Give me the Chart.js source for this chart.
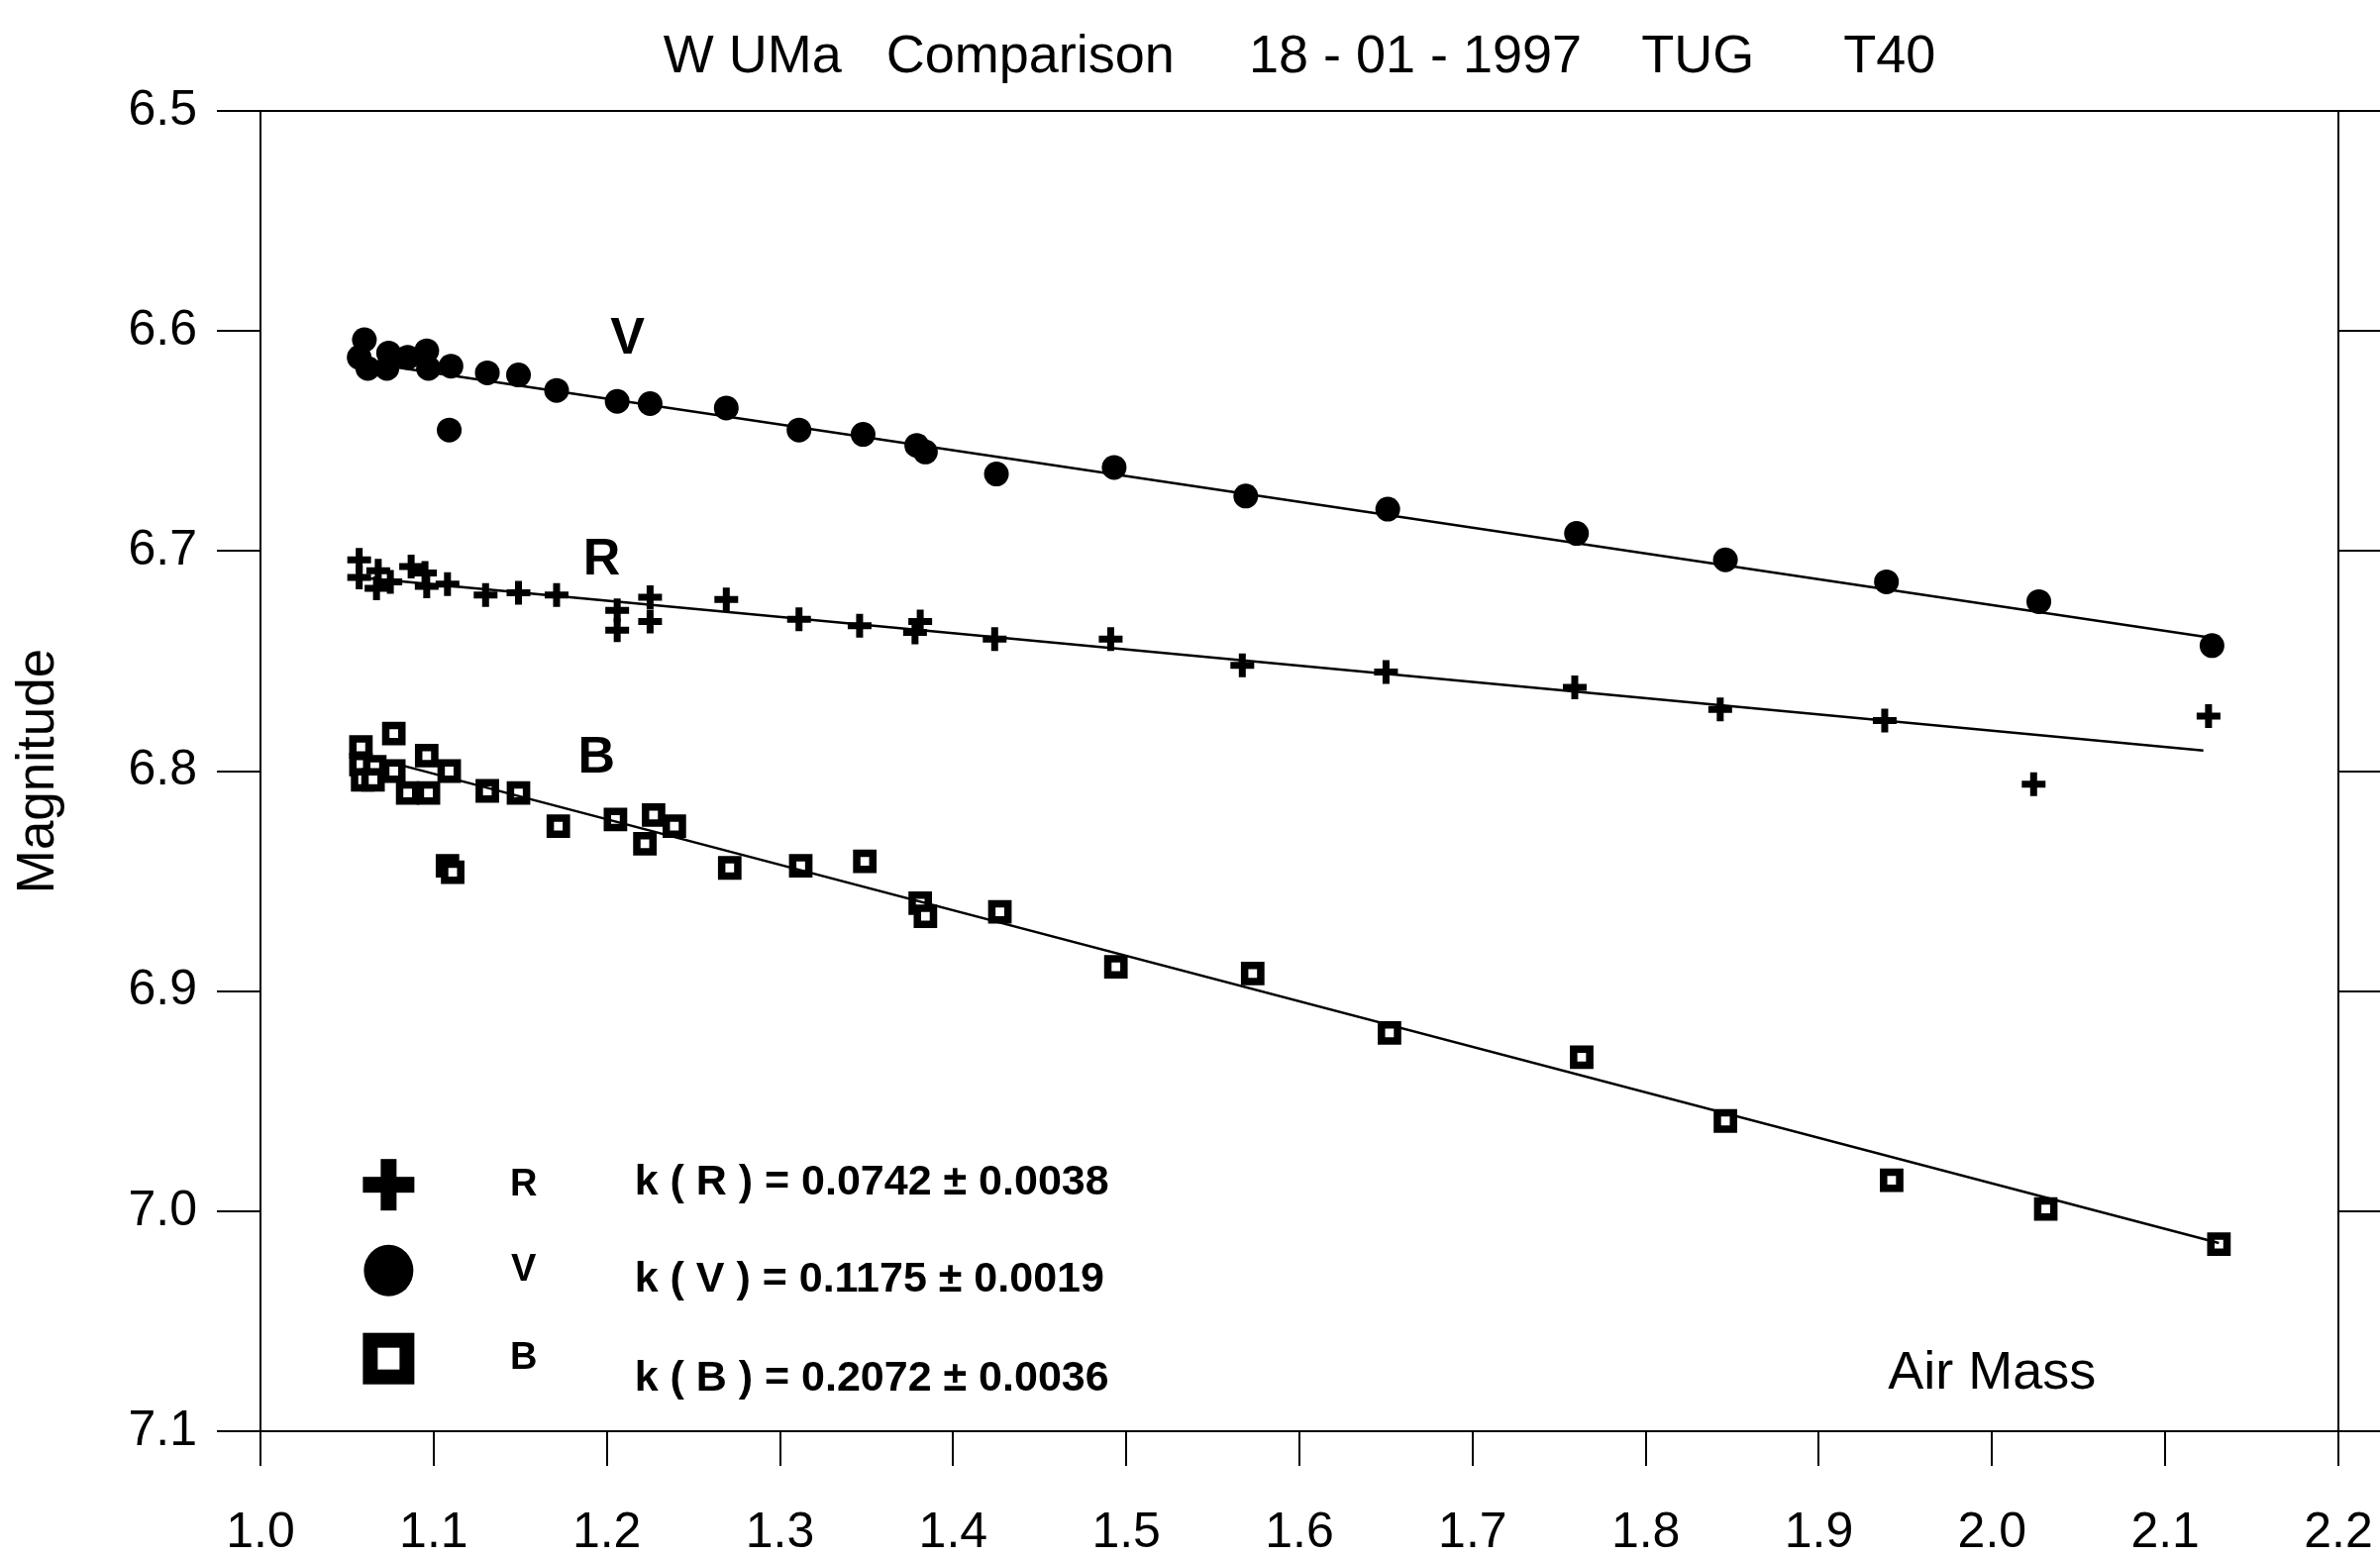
<!DOCTYPE html>
<html>
<head>
<meta charset="utf-8">
<script src="https://cdn.jsdelivr.net/npm/chart.js@4/dist/chart.umd.min.js"></script>
<style>
  body { margin: 0; background: #fff; }
  canvas { display: block; }
</style>
</head>
<body>
<canvas id="chart" width="2403" height="1573"></canvas>
<script>
'use strict';

// air mass / magnitude pairs
const vAir = [1.060, 1.057, 1.062, 1.073, 1.074, 1.085, 1.096, 1.097, 1.110, 1.109, 1.131, 1.149, 1.171, 1.206, 1.225, 1.269, 1.311, 1.348, 1.379, 1.384, 1.425, 1.493, 1.569, 1.651, 1.760, 1.846, 1.939, 2.027, 2.127];
const vMag = [6.604, 6.612, 6.617, 6.617, 6.610, 6.612, 6.609, 6.617, 6.616, 6.645, 6.619, 6.620, 6.627, 6.632, 6.633, 6.635, 6.645, 6.647, 6.652, 6.655, 6.665, 6.662, 6.675, 6.681, 6.692, 6.704, 6.714, 6.723, 6.743];

const rAir = [1.057, 1.057, 1.067, 1.068, 1.075, 1.087, 1.095, 1.096, 1.108, 1.130, 1.149, 1.171, 1.206, 1.206, 1.225, 1.225, 1.269, 1.311, 1.346, 1.378, 1.381, 1.424, 1.491, 1.567, 1.650, 1.759, 1.843, 1.938, 2.024, 2.125];
const rMag = [6.704, 6.712, 6.717, 6.709, 6.714, 6.707, 6.710, 6.716, 6.715, 6.720, 6.719, 6.720, 6.727, 6.736, 6.721, 6.732, 6.722, 6.731, 6.734, 6.737, 6.732, 6.740, 6.740, 6.752, 6.755, 6.762, 6.772, 6.777, 6.806, 6.775];

const bAir = [1.058, 1.077, 1.058, 1.059, 1.066, 1.065, 1.077, 1.096, 1.085, 1.097, 1.109, 1.108, 1.111, 1.131, 1.149, 1.172, 1.205, 1.227, 1.222, 1.239, 1.271, 1.312, 1.349, 1.381, 1.384, 1.427, 1.494, 1.573, 1.652, 1.763, 1.846, 1.942, 2.031, 2.131];
const bMag = [6.789, 6.783, 6.797, 6.804, 6.798, 6.804, 6.800, 6.793, 6.810, 6.810, 6.800, 6.843, 6.846, 6.809, 6.810, 6.825, 6.822, 6.820, 6.833, 6.825, 6.844, 6.843, 6.841, 6.860, 6.866, 6.864, 6.889, 6.892, 6.919, 6.930, 6.959, 6.986, 6.999, 7.015];

// ends of the fitted lines
const vFitAir = [1.057, 2.127];
const vFitMag = [6.614, 6.7395];
const rFitAir = [1.057, 2.122];
const rFitMag = [6.712, 6.7907];
const bFitAir = [1.058, 2.131];
const bFitMag = [6.7925, 7.0145];

const xTicks = [1.0, 1.1, 1.2, 1.3, 1.4, 1.5, 1.6, 1.7, 1.8, 1.9, 2.0, 2.1, 2.2];
const yTicks = [6.5, 6.6, 6.7, 6.8, 6.9, 7.0, 7.1];

const bands = ['R', 'V', 'B'];
const kTexts = ['k ( R ) = 0.0742 \u00b1 0.0038', 'k ( V ) = 0.1175 \u00b1 0.0019', 'k ( B ) = 0.2072 \u00b1 0.0036'];
const titleText = 'W UMa   Comparison     18 - 01 - 1997    TUG      T40';

// where the annotations sit, in data units
const seriesLabelPos = { V: [1.212, 6.604], R: [1.197, 6.704], B: [1.194, 6.794] };
const airMassPos = [2.0, 7.074];
const legendSymX = 1.074, legendLetterX = 1.152, legendTextX = 1.216;
const legendSymY = [6.988, 7.027, 7.067];
const legendTextY = [6.987, 7.031, 7.076];

const FONT = '"Liberation Sans", Arial, sans-serif';

const pts = (xs, ys) => xs.map((v, i) => ({ x: v, y: ys[i] }));

const fitLine = (xs, ys) => ({
  data: pts(xs, ys),
  showLine: true,
  borderColor: '#000',
  borderWidth: 2.5,
  pointRadius: 0,
  fill: false
});

const annotate = {
  id: 'annotate',
  beforeDraw(chart) {
    const ctx = chart.ctx;
    ctx.save();
    ctx.fillStyle = '#fff';
    ctx.fillRect(0, 0, chart.width, chart.height);
    ctx.restore();
  },
  afterDraw(chart) {
    const { ctx, chartArea: a, scales: { x, y } } = chart;
    ctx.save();
    ctx.strokeStyle = '#000';
    ctx.lineWidth = 2;
    ctx.strokeRect(a.left, a.top, a.right - a.left, a.bottom - a.top);

    ctx.fillStyle = '#000';
    ctx.textAlign = 'center';
    ctx.textBaseline = 'middle';
    ctx.font = 'bold 52px ' + FONT;
    Object.keys(seriesLabelPos).forEach(k => {
      const p = seriesLabelPos[k];
      ctx.fillText(k, x.getPixelForValue(p[0]), y.getPixelForValue(p[1]));
    });

    ctx.font = '54px ' + FONT;
    ctx.fillText('Air Mass', x.getPixelForValue(airMassPos[0]), y.getPixelForValue(airMassPos[1]));

    // legend
    const sx = x.getPixelForValue(legendSymX);
    bands.forEach((b, i) => {
      const sy = y.getPixelForValue(legendSymY[i]);
      ctx.fillStyle = '#000';
      if (b === 'R') {
        ctx.fillRect(sx - 26, sy - 8, 52, 16);
        ctx.fillRect(sx - 8, sy - 26, 16, 52);
      } else if (b === 'V') {
        ctx.beginPath();
        ctx.ellipse(sx, sy, 25, 26, 0, 0, Math.PI * 2);
        ctx.fill();
      } else {
        ctx.fillRect(sx - 26, sy - 26, 52, 52);
        ctx.fillStyle = '#fff';
        ctx.fillRect(sx - 11, sy - 11, 22, 22);
        ctx.fillStyle = '#000';
      }
      ctx.font = 'bold 38px ' + FONT;
      ctx.textAlign = 'center';
      ctx.fillText(b, x.getPixelForValue(legendLetterX), sy);
      ctx.font = 'bold 43px ' + FONT;
      ctx.textAlign = 'left';
      ctx.fillText(kTexts[i], x.getPixelForValue(legendTextX), y.getPixelForValue(legendTextY[i]));
    });
    ctx.restore();
  }
};

new Chart(document.getElementById('chart').getContext('2d'), {
  type: 'scatter',
  data: {
    datasets: [
      fitLine(vFitAir, vFitMag),
      fitLine(rFitAir, rFitMag),
      fitLine(bFitAir, bFitMag),
      {
        label: 'V',
        data: pts(vAir, vMag),
        pointStyle: 'circle',
        pointRadius: 12.5,
        backgroundColor: '#000',
        borderColor: '#000',
        borderWidth: 0
      },
      {
        label: 'R',
        data: pts(rAir, rMag),
        pointStyle: 'cross',
        pointRadius: 12,
        borderColor: '#000',
        borderWidth: 7
      },
      {
        label: 'B',
        data: pts(bAir, bMag),
        pointStyle: 'rect',
        pointRadius: 11.5,
        backgroundColor: '#fff',
        borderColor: '#000',
        borderWidth: 7.5
      }
    ]
  },
  options: {
    responsive: false,
    animation: false,
    devicePixelRatio: 1,
    layout: { padding: 0 },
    plugins: {
      legend: { display: false },
      tooltip: { enabled: false },
      title: {
        display: true,
        text: titleText,
        fullSize: false,
        color: '#000',
        font: { family: FONT, size: 54, weight: 'normal' },
        padding: { top: 26, bottom: 21.2 }
      }
    },
    scales: {
      x: {
        type: 'linear',
        position: 'bottom',
        min: 1.0,
        max: 2.2,
        afterBuildTicks: s => { s.ticks = xTicks.map(v => ({ value: v })); },
        afterFit: s => { s.height = 128; s.paddingLeft = 0; s.paddingRight = 0; },
        border: { display: true, color: '#000', width: 2 },
        grid: { drawOnChartArea: false, drawTicks: true, tickLength: 35, color: '#000', lineWidth: 2 },
        ticks: {
          color: '#000',
          padding: 38,
          maxRotation: 0,
          autoSkip: false,
          font: { family: FONT, size: 50 },
          callback: v => v.toFixed(1)
        }
      },
      y: {
        type: 'linear',
        position: 'left',
        reverse: true,
        min: 6.5,
        max: 7.1,
        afterBuildTicks: s => { s.ticks = yTicks.map(v => ({ value: v })); },
        afterFit: s => { s.width = 263; },
        border: { display: true, color: '#000', width: 2 },
        grid: { drawOnChartArea: false, drawTicks: true, tickLength: 44, color: '#000', lineWidth: 2 },
        title: {
          display: true,
          text: 'Magnitude',
          color: '#000',
          font: { family: FONT, size: 53 },
          padding: { top: 8, bottom: 0 }
        },
        ticks: {
          color: '#000',
          padding: 20,
          autoSkip: false,
          font: { family: FONT, size: 50 },
          callback: v => v.toFixed(1)
        }
      },
      y2: {
        type: 'linear',
        position: 'right',
        reverse: true,
        min: 6.5,
        max: 7.1,
        afterBuildTicks: s => { s.ticks = yTicks.map(v => ({ value: v })); },
        afterFit: s => { s.width = 42; },
        border: { display: true, color: '#000', width: 2 },
        grid: { drawOnChartArea: false, drawTicks: true, tickLength: 42, color: '#000', lineWidth: 2 },
        ticks: { display: false }
      }
    }
  },
  plugins: [annotate]
});
</script>
</body>
</html>
